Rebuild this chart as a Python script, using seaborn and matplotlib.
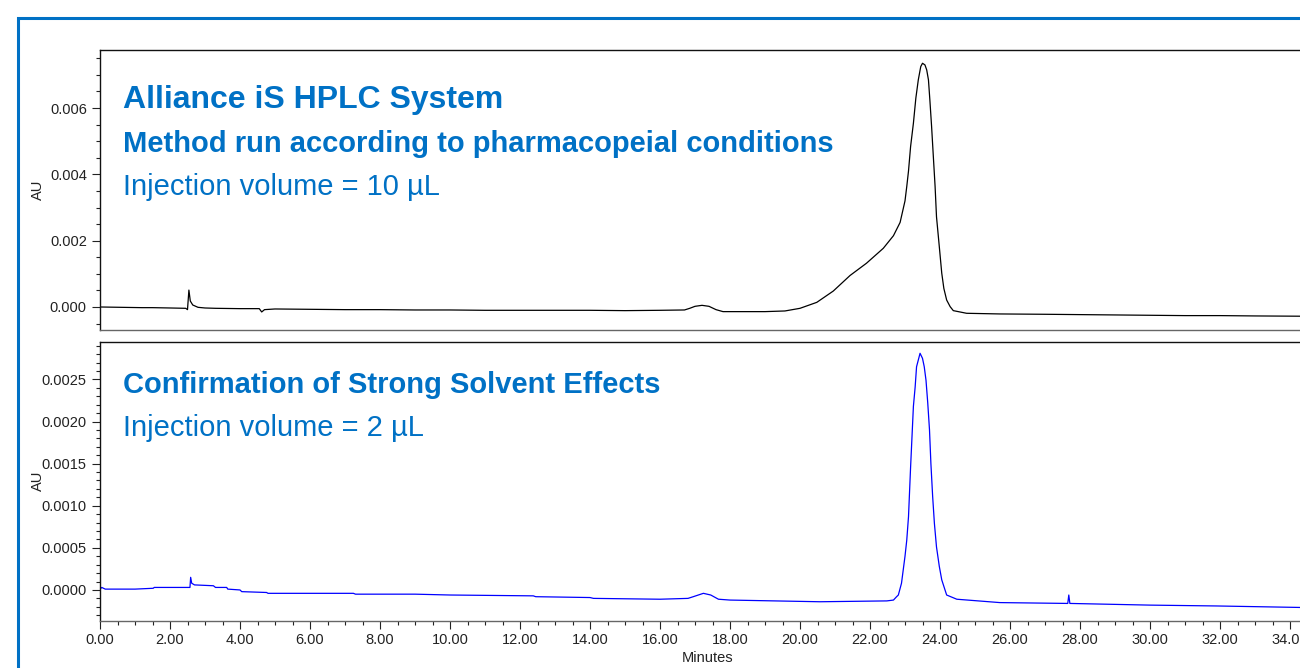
import matplotlib
matplotlib.use('Agg')
import matplotlib.pyplot as plt
import seaborn as sns
from matplotlib.patches import Rectangle
from matplotlib.ticker import MultipleLocator, FormatStrFormatter

# chromatogram: minutes vs AU
# 10 uL injection (black trace)
top_min = [0.00, 0.60, 1.20, 1.50, 2.00, 2.45, 2.50, 2.54, 2.58, 2.65, 2.80, 3.00,
           3.30, 4.00, 4.55, 4.62, 4.70, 5.00, 6.00, 7.00, 8.00, 9.00, 10.00, 11.00,
           12.00, 13.00, 14.00, 15.00, 16.00, 16.70, 16.85, 17.00, 17.20, 17.40, 17.60,
           17.80, 18.50, 19.00, 19.57, 20.00, 20.48, 20.95, 21.43, 21.90, 22.38, 22.67,
           22.86, 23.00, 23.05, 23.10, 23.16, 23.24, 23.31, 23.38, 23.45, 23.50, 23.57,
           23.62, 23.67, 23.71, 23.76, 23.81, 23.86, 23.90, 23.98, 24.05, 24.11, 24.19,
           24.29, 24.38, 24.76, 25.71, 27.00, 28.00, 29.00, 30.00, 31.00, 32.00, 33.00,
           34.60]
top_au = [0.00000, -0.00001, -0.00002, -0.00002, -0.00003, -0.00004, -0.00008, 0.00051,
          0.00018, 0.00006, -0.00001, -0.00003, -0.00004, -0.00005, -0.00005, -0.00015,
          -0.00008, -0.00006, -0.00007, -0.00008, -0.00008, -0.00009, -0.00009, -0.00010,
          -0.00010, -0.00010, -0.00010, -0.00011, -0.00010, -0.00009, -0.00004, 0.00002,
          0.00005, 0.00002, -0.00008, -0.00014, -0.00014, -0.00014, -0.00012, -0.00004,
          0.00014, 0.00048, 0.00095, 0.00132, 0.00177, 0.00215, 0.00255, 0.00320, 0.00363,
          0.00410, 0.00484, 0.00554, 0.00630, 0.00685, 0.00725, 0.00735, 0.00730, 0.00715,
          0.00685, 0.00625, 0.00544, 0.00453, 0.00363, 0.00272, 0.00182, 0.00102, 0.00056,
          0.00021, 0.00001, -0.00011, -0.00019, -0.00021, -0.00022, -0.00023, -0.00024,
          -0.00025, -0.00026, -0.00026, -0.00027, -0.00028]

# 2 uL injection (blue trace)
bot_min = [0.00, 0.05, 0.15, 1.00, 1.52, 1.55, 2.50, 2.57, 2.59, 2.62, 2.70, 3.24, 3.30,
           3.62, 3.65, 4.00, 4.05, 4.76, 4.80, 7.24, 7.30, 9.00, 10.00, 12.38, 12.45,
           14.00, 14.10, 16.00, 16.80, 16.95, 17.24, 17.45, 17.67, 18.00, 20.57, 22.48,
           22.67, 22.76, 22.81, 22.90, 23.00, 23.05, 23.10, 23.16, 23.20, 23.24, 23.29,
           23.33, 23.38, 23.43, 23.50, 23.55, 23.60, 23.65, 23.70, 23.74, 23.79, 23.84,
           23.90, 23.98, 24.05, 24.19, 24.48, 25.71, 27.65, 27.68, 27.71, 30.00, 31.90,
           34.60]
bot_au = [0.00001, 0.00003, 0.00001, 0.00001, 0.00002, 0.00003, 0.00003, 0.00003, 0.00015,
          0.00008, 0.00006, 0.00005, 0.00003, 0.00003, 0.00001, 0.00000, -0.00002, -0.00003,
          -0.00004, -0.00004, -0.00005, -0.00005, -0.00006, -0.00007, -0.00008, -0.00009,
          -0.00010, -0.00011, -0.00010, -0.00008, -0.00004, -0.00006, -0.00011, -0.00012,
          -0.00014, -0.00013, -0.00012, -0.00008, -0.00006, 0.00008, 0.00040, 0.00059,
          0.00087, 0.00146, 0.00182, 0.00218, 0.00241, 0.00265, 0.00273, 0.00281, 0.00275,
          0.00265, 0.00249, 0.00222, 0.00190, 0.00150, 0.00111, 0.00079, 0.00051, 0.00028,
          0.00012, -0.00006, -0.00011, -0.00015, -0.00016, -0.00006, -0.00016, -0.00018,
          -0.00019, -0.00021]

x_ticks = [0, 2, 4, 6, 8, 10, 12, 14, 16, 18, 20, 22, 24, 26, 28, 30, 32, 34]

waters_blue = '#0071C5'

sns.set_theme(style='white')
plt.rcParams['font.family'] = ['Liberation Sans', 'DejaVu Sans']

W, H = 1300, 668
fig = plt.figure(figsize=(13, 6.68), dpi=100)

# axes run past the right edge of the picture, like the cropped original
ax_top = fig.add_axes([100 / W, 1 - 330 / H, 1210 / W, 280 / H])
ax_bot = fig.add_axes([100 / W, 1 - 620.7 / H, 1210 / W, 279.2 / H])

sns.lineplot(x=top_min, y=top_au, ax=ax_top, color='black', linewidth=0.9,
             estimator=None, sort=False)
sns.lineplot(x=bot_min, y=bot_au, ax=ax_bot, color='#0000FF', linewidth=0.9,
             estimator=None, sort=False)

xmax = 1210 / 35.0
for ax in (ax_top, ax_bot):
    ax.set_xlim(0, xmax)
    ax.tick_params(axis='both', which='major', direction='out', length=6, width=0.8,
                   labelsize=10.5, colors='#222222', left=True, bottom=True)
    ax.tick_params(axis='both', which='minor', direction='out', length=3, width=0.8,
                   colors='#222222', left=True, bottom=True)
    ax.spines['top'].set_color('#111111')
    ax.spines['left'].set_color('#111111')
    ax.spines['bottom'].set_color('#666666')
    for s in ax.spines.values():
        s.set_linewidth(1.0)
    ax.set_ylabel('AU', fontsize=10.5, color='#222222')
    ax.yaxis.set_label_coords(-55 / 1210, 0.5)

ax_top.set_ylim(-0.000694, 0.00775)
ax_top.yaxis.set_major_locator(MultipleLocator(0.002))
ax_top.yaxis.set_minor_locator(MultipleLocator(0.0005))
ax_top.yaxis.set_major_formatter(FormatStrFormatter('%.3f'))
ax_top.set_xticks([])
ax_top.tick_params(axis='x', which='both', bottom=False, labelbottom=False)
ax_top.set_xlabel('')

ax_bot.set_ylim(-0.000365, 0.00295)
ax_bot.yaxis.set_major_locator(MultipleLocator(0.0005))
ax_bot.yaxis.set_minor_locator(MultipleLocator(0.0001))
ax_bot.yaxis.set_major_formatter(FormatStrFormatter('%.4f'))
ax_bot.set_xticks(x_ticks)
ax_bot.set_xticklabels([f'{t:.2f}' for t in x_ticks])
ax_bot.xaxis.set_minor_locator(MultipleLocator(0.5))
ax_bot.tick_params(axis='x', which='major', pad=3)
ax_bot.set_xlabel('Minutes', fontsize=10.5, color='#222222')
ax_bot.xaxis.set_label_coords((708 - 100) / 1210, -30 / 279.2)

# annotation text
fig.text(123 / W, 1 - 108.3 / H, 'Alliance iS HPLC System', fontsize=23,
         fontweight='bold', color=waters_blue, va='baseline')
fig.text(123 / W, 1 - 152 / H, 'Method run according to pharmacopeial conditions',
         fontsize=21, fontweight='bold', color=waters_blue, va='baseline')
fig.text(123 / W, 1 - 195 / H, 'Injection volume = 10 µL', fontsize=21,
         color=waters_blue, va='baseline')
fig.text(123 / W, 1 - 393.3 / H, 'Confirmation of Strong Solvent Effects', fontsize=21,
         fontweight='bold', color=waters_blue, va='baseline')
fig.text(123 / W, 1 - 436 / H, 'Injection volume = 2 µL', fontsize=21,
         color=waters_blue, va='baseline')

# blue frame, cut off on the right and bottom
fig.patches.append(Rectangle((18 / W, -0.1), 1.0, 1 - 18 / H + 0.1,
                             transform=fig.transFigure, fill=False,
                             edgecolor=waters_blue, linewidth=2.2))

fig.savefig('out.png', dpi=100)
